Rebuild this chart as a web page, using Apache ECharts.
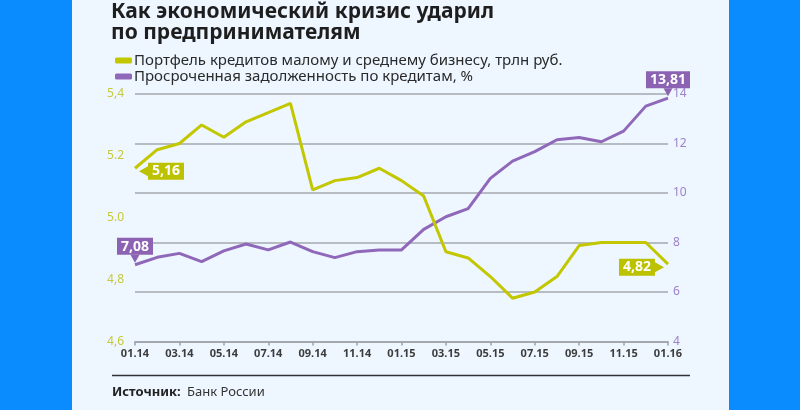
<!DOCTYPE html>
<html>
<head>
<meta charset="utf-8">
<script src="https://cdn.jsdelivr.net/npm/echarts@6/dist/echarts.min.js"></script>
<style>
html,body{margin:0;padding:0;background:#eef6ff;}
#chart{width:800px;height:410px;}
</style>
</head>
<body>
<div id="chart"></div>
<script>
const titleLines = ['Как экономический кризис ударил', 'по предпринимателям'];
const seriesNames = ['Портфель кредитов малому и среднему бизнесу, трлн руб.', 'Просроченная задолженность по кредитам, %'];
const months = ['01.14','02.14','03.14','04.14','05.14','06.14','07.14','08.14','09.14','10.14','11.14','12.14',
                '01.15','02.15','03.15','04.15','05.15','06.15','07.15','08.15','09.15','10.15','11.15','12.15','01.16'];
const portfolio = [5.16, 5.22, 5.24, 5.30, 5.26, 5.31, 5.34, 5.37, 5.09, 5.12, 5.13, 5.16, 5.12,
                   5.07, 4.89, 4.87, 4.81, 4.74, 4.76, 4.81, 4.91, 4.92, 4.92, 4.92, 4.85];
const overdue = [7.10, 7.40, 7.56, 7.23, 7.66, 7.94, 7.70, 8.02, 7.63, 7.39, 7.63, 7.70, 7.70,
                 8.53, 9.04, 9.37, 10.59, 11.29, 11.67, 12.15, 12.24, 12.07, 12.50, 13.51, 13.83];
const leftTickLabels = ['4,6', '4,8', '5.0', '5.2', '5,4'];
const rightTickLabels = ['4', '6', '8', '10', '12', '14'];
const portfolioCallouts = ['5,16', '4,82'];
const overdueCallouts = ['7,08', '13,81'];
const sourceLabel = 'Источник:';
const sourceText = 'Банк России';

const GREEN = '#c2c700';
const GREEN_BOX = '#bcc100';
const PURPLE = '#9068b9';
const PURPLE_BOX = '#8c62b3';
const FONT = 'Noto Sans';

const boxLabel = (bg) => ({
  show: true, color: '#fff', fontFamily: FONT, fontWeight: 'bold', fontSize: 14,
  backgroundColor: bg, padding: [1, 4, 0, 4], lineHeight: 16, distance: 0,
  formatter: p => p.name
});

const chart = echarts.init(document.getElementById('chart'), null, {renderer: 'canvas'});
chart.setOption({
  backgroundColor: '#eef6ff',
  animation: false,
  textStyle: {fontFamily: FONT},
  graphic: [
    {type: 'rect', shape: {x: 0, y: 0, width: 72, height: 410}, style: {fill: '#0a8cff'}},
    {type: 'rect', shape: {x: 729, y: 0, width: 71, height: 410}, style: {fill: '#0a8cff'}},
    {type: 'text', x: 111, y: 12, style: {text: titleLines[0], font: 'bold 21px "Noto Sans"', fill: '#1e1e1e', verticalAlign: 'middle'}},
    {type: 'text', x: 111, y: 33, style: {text: titleLines[1], font: 'bold 21px "Noto Sans"', fill: '#1e1e1e', verticalAlign: 'middle'}},
    {type: 'line', shape: {x1: 112, y1: 375.5, x2: 690, y2: 375.5}, style: {stroke: '#333', lineWidth: 1.5}},
    {type: 'text', x: 112, y: 392, style: {text: sourceLabel, font: 'bold 13px "Noto Sans"', fill: '#222', verticalAlign: 'middle'}},
    {type: 'text', x: 187, y: 392, style: {text: sourceText, font: '13px "Noto Sans"', fill: '#333', verticalAlign: 'middle'}}
  ],
  legend: {
    orient: 'vertical', left: 110, top: 48, itemGap: 1,
    itemWidth: 17, itemHeight: 6, icon: 'roundRect',
    textStyle: {fontSize: 15, color: '#2a2a2a', fontFamily: FONT, padding: [0,0,0,-3]},
    data: seriesNames
  },
  grid: {left: 135, right: 132, top: 94, bottom: 68.5},
  xAxis: {
    type: 'category', data: months, boundaryGap: false,
    axisLine: {lineStyle: {color: '#9ca1a8', width: 1.5}},
    axisTick: {interval: 1, length: 4, lineStyle: {color: '#9ca1a8', width: 1.5}},
    axisLabel: {interval: 1, color: '#3c3c3c', fontWeight: 'bold', fontSize: 11, margin: 7, fontFamily: FONT},
    splitLine: {show: false}
  },
  yAxis: [
    {
      type: 'value', min: 4.6, max: 5.4, interval: 0.2, position: 'left',
      axisLine: {show: false}, axisTick: {show: false}, splitLine: {show: false},
      axisLabel: {color: '#c8ca3c', fontSize: 12, margin: 11, fontFamily: FONT,
        formatter: (v, i) => leftTickLabels[i]}
    },
    {
      type: 'value', min: 4, max: 14, interval: 2, position: 'right',
      axisLine: {show: false}, axisTick: {show: false},
      splitLine: {lineStyle: {color: '#a3a8ae', width: 1.5}},
      axisLabel: {color: '#9d82c8', fontSize: 12, margin: 5, fontFamily: FONT,
        formatter: (v, i) => rightTickLabels[i]}
    }
  ],
  series: [
    {
      name: seriesNames[0], type: 'line', yAxisIndex: 0, data: portfolio, z: 4,
      symbol: 'none', lineStyle: {color: GREEN, width: 3}, itemStyle: {color: GREEN},
      markPoint: {
        silent: true,
        data: [
          {name: portfolioCallouts[0], coord: [months[0], portfolio[0]],
           symbol: 'path://M0,5L9,0L9,10Z', symbolSize: [9, 10], symbolOffset: [8.5, 3],
           itemStyle: {color: GREEN_BOX}, label: Object.assign(boxLabel(GREEN_BOX), {position: 'right'})},
          {name: portfolioCallouts[1], coord: [months[months.length - 1], portfolio[portfolio.length - 1]],
           symbol: 'path://M9,5L0,0L0,10Z', symbolSize: [9, 10], symbolOffset: [-8.5, 3],
           itemStyle: {color: GREEN_BOX}, label: Object.assign(boxLabel(GREEN_BOX), {position: 'left'})}
        ]
      }
    },
    {
      name: seriesNames[1], type: 'line', yAxisIndex: 1, data: overdue, z: 3,
      symbol: 'none', lineStyle: {color: PURPLE, width: 3}, itemStyle: {color: PURPLE},
      markPoint: {
        silent: true,
        data: [
          {name: overdueCallouts[0], coord: [months[0], overdue[0]],
           symbol: 'path://M0,0L10,0L5,8Z', symbolSize: [9, 8], symbolOffset: [0, -6],
           itemStyle: {color: PURPLE_BOX}, label: Object.assign(boxLabel(PURPLE_BOX), {position: 'top'})},
          {name: overdueCallouts[1], coord: [months[months.length - 1], overdue[overdue.length - 1]],
           symbol: 'path://M0,0L10,0L5,8Z', symbolSize: [9, 8], symbolOffset: [0, -6],
           itemStyle: {color: PURPLE_BOX}, label: Object.assign(boxLabel(PURPLE_BOX), {position: 'top'})}
        ]
      }
    }
  ]
});
</script>
</body>
</html>
